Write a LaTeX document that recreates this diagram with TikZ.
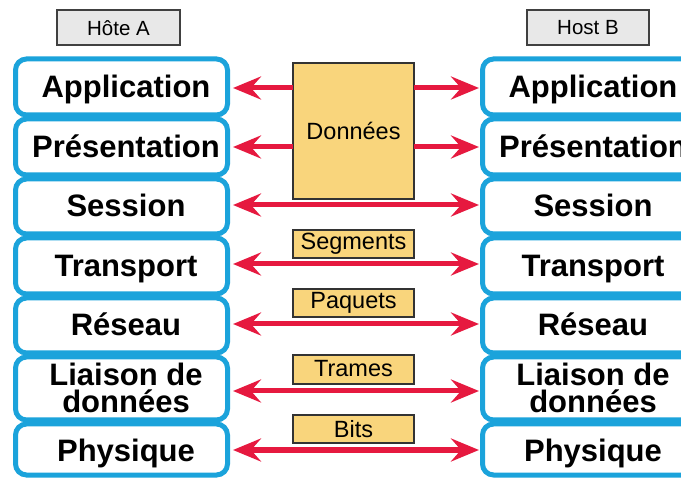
\documentclass[tikz,border=0pt]{standalone}
\usepackage{fontspec}
\setmainfont{Liberation Sans}
\usetikzlibrary{arrows.meta}
\definecolor{layerblue}{HTML}{1BA3DB}
\definecolor{arrred}{HTML}{E6193F}
\definecolor{pdufill}{HTML}{F9D57C}
\definecolor{hostfill}{HTML}{E8E8E8}
\tikzset{
  layerbox/.style={draw=layerblue, line width=5pt, rounded corners=11pt, fill=white},
  layertext/.style={font=\fontsize{31}{27}\selectfont\bfseries, align=center, inner sep=0pt, anchor=base},
  layertwo/.style={font=\fontsize{31}{26.5}\selectfont\bfseries, align=center, inner sep=0pt},
  pdubox/.style={draw=black!80, line width=1.3pt, fill=pdufill},
  pdutext/.style={font=\fontsize{23.5}{26}\selectfont, inner sep=0pt},
  hostbox/.style={draw=black!75, line width=1.2pt, fill=hostfill},
  hosttext/.style={font=\fontsize{20.5}{22}\selectfont, inner sep=0pt},
  link/.style={draw=arrred, line width=5pt, -{Stealth[length=28pt,width=23pt,inset=10pt]}},
  dlink/.style={draw=arrred, line width=5pt, {Stealth[length=28pt,width=23pt,inset=10pt]}-{Stealth[length=28pt,width=23pt,inset=10pt]}}
}
\begin{document}
\begin{tikzpicture}[x=1pt,y=-1pt]
\useasboundingbox (0,0) rectangle (681,481);
\fill[white] (0,0) rectangle (681,481);
\begin{scope}
\clip (0,0) rectangle (681,481);
\foreach \t/\b in {57/117,117/177,177/236,236/296,296/355,355/422,422/477}{
  \draw[layerbox] (15.5,\t+2) rectangle (227.5,\b-2);
  \draw[layerbox] (482.5,\t+2) rectangle (694.5,\b-2);
}
\end{scope}
% layer texts
\node[layertext] (LA1) at (126,98) {Application};
\node[layertext] (LA2) at (126,158) {Présentation};
\node[layertext] (LA3) at (126,217) {Session};
\node[layertext] (LA4) at (126,277) {Transport};
\node[layertext] (LA5) at (126,336) {Réseau};
\node[layertwo] (LA6) at (126,388) {Liaison de\\données};
\node[layertext] (LA7) at (126,461) {Physique};
\begin{scope}
\clip (0,0) rectangle (681,481);
\node[layertext] (LB1) at (593,98) {Application};
\node[layertext] (LB2) at (593,158) {Présentation};
\node[layertext] (LB3) at (593,217) {Session};
\node[layertext] (LB4) at (593,277) {Transport};
\node[layertext] (LB5) at (593,336) {Réseau};
\node[layertwo] (LB6) at (593,388) {Liaison de\\données};
\node[layertext] (LB7) at (593,461) {Physique};
\end{scope}
% anchors for arrows
\coordinate (L1) at (233,88);  \coordinate (R1) at (479,88);
\coordinate (L2) at (233,147); \coordinate (R2) at (479,147);
\coordinate (L3) at (233,205); \coordinate (R3) at (479,205);
\coordinate (L4) at (233,264); \coordinate (R4) at (479,264);
\coordinate (L5) at (233,324); \coordinate (R5) at (479,324);
\coordinate (L6) at (233,391); \coordinate (R6) at (479,391);
\coordinate (L7) at (233,450); \coordinate (R7) at (479,450);
% host labels
\draw[hostbox] (57,10) rectangle (180,45);
\node[hosttext] (HA) at (118.5,28) {Hôte A};
\draw[hostbox] (527,10) rectangle (649,45);
\node[hosttext] (HB) at (588,28) {Host B};
% Données box
\draw[pdubox] (293,63) rectangle (414,199);
\node[pdutext] (D) at (353.5,131) {Données};
\coordinate (DL1) at (293,88); \coordinate (DR1) at (414,88);
\coordinate (DL2) at (293,147); \coordinate (DR2) at (414,147);
\draw[link] (DL1) -- (L1);
\draw[link] (DR1) -- (R1);
\draw[link] (DL2) -- (L2);
\draw[link] (DR2) -- (R2);
\draw[dlink] (L3) -- (R3);
% PDU boxes
\draw[pdubox] (293,230) rectangle (414,258);
\node[pdutext] (S) at (353.5,244) {Segments};
\draw[dlink] (L4) -- (R4);
\draw[pdubox] (293,289) rectangle (414,317);
\node[pdutext] (P) at (353.5,303) {Paquets};
\draw[dlink] (L5) -- (R5);
\draw[pdubox] (293,355) rectangle (414,384);
\node[pdutext] (T) at (353.5,369) {Trames};
\draw[dlink] (L6) -- (R6);
\draw[pdubox] (293,415) rectangle (414,443);
\node[pdutext] (B) at (353.5,429) {Bits};
\draw[dlink] (L7) -- (R7);
\end{tikzpicture}
\end{document}
